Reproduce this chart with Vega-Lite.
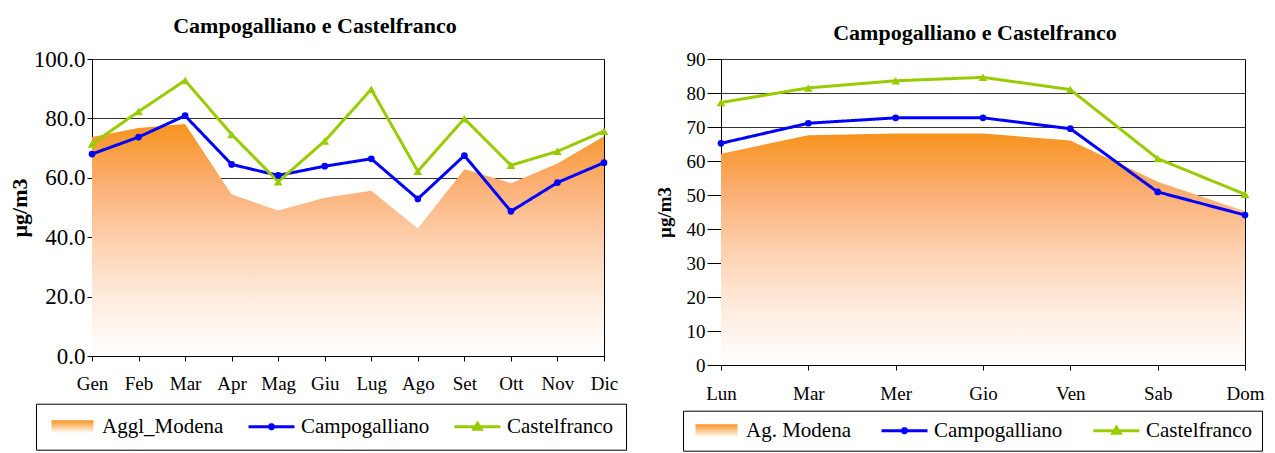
{
  "$schema": "https://vega.github.io/schema/vega-lite/v6.json",
  "background": "white",
  "padding": {"left": 7, "top": 14, "right": 0, "bottom": 0},
  "autosize": {"type": "pad"},
  "spacing": 117,
  "bounds": "flush",
  "datasets": {
    "monthly": [
      {"period": "Gen", "series": "Aggl_Modena", "value": 73.7},
      {"period": "Feb", "series": "Aggl_Modena", "value": 76.8},
      {"period": "Mar", "series": "Aggl_Modena", "value": 78.1},
      {"period": "Apr", "series": "Aggl_Modena", "value": 54.4},
      {"period": "Mag", "series": "Aggl_Modena", "value": 49.0},
      {"period": "Giu", "series": "Aggl_Modena", "value": 53.3},
      {"period": "Lug", "series": "Aggl_Modena", "value": 55.6},
      {"period": "Ago", "series": "Aggl_Modena", "value": 42.9},
      {"period": "Set", "series": "Aggl_Modena", "value": 62.9},
      {"period": "Ott", "series": "Aggl_Modena", "value": 58.2},
      {"period": "Nov", "series": "Aggl_Modena", "value": 64.8},
      {"period": "Dic", "series": "Aggl_Modena", "value": 74.0},
      {"period": "Gen", "series": "Campogalliano", "value": 68.0},
      {"period": "Feb", "series": "Campogalliano", "value": 73.7},
      {"period": "Mar", "series": "Campogalliano", "value": 80.9},
      {"period": "Apr", "series": "Campogalliano", "value": 64.5},
      {"period": "Mag", "series": "Campogalliano", "value": 60.8},
      {"period": "Giu", "series": "Campogalliano", "value": 63.9},
      {"period": "Lug", "series": "Campogalliano", "value": 66.4},
      {"period": "Ago", "series": "Campogalliano", "value": 52.9},
      {"period": "Set", "series": "Campogalliano", "value": 67.5},
      {"period": "Ott", "series": "Campogalliano", "value": 48.7},
      {"period": "Nov", "series": "Campogalliano", "value": 58.4},
      {"period": "Dic", "series": "Campogalliano", "value": 65.1},
      {"period": "Gen", "series": "Castelfranco", "value": 71.4},
      {"period": "Feb", "series": "Castelfranco", "value": 82.3},
      {"period": "Mar", "series": "Castelfranco", "value": 92.8},
      {"period": "Apr", "series": "Castelfranco", "value": 74.6},
      {"period": "Mag", "series": "Castelfranco", "value": 58.7},
      {"period": "Giu", "series": "Castelfranco", "value": 72.4},
      {"period": "Lug", "series": "Castelfranco", "value": 89.8},
      {"period": "Ago", "series": "Castelfranco", "value": 62.2},
      {"period": "Set", "series": "Castelfranco", "value": 79.9},
      {"period": "Ott", "series": "Castelfranco", "value": 64.2},
      {"period": "Nov", "series": "Castelfranco", "value": 68.9},
      {"period": "Dic", "series": "Castelfranco", "value": 75.7}
    ],
    "weekly": [
      {"period": "Lun", "series": "Ag. Modena", "value": 62.1},
      {"period": "Mar", "series": "Ag. Modena", "value": 67.6},
      {"period": "Mer", "series": "Ag. Modena", "value": 68.1},
      {"period": "Gio", "series": "Ag. Modena", "value": 68.1},
      {"period": "Ven", "series": "Ag. Modena", "value": 66.0},
      {"period": "Sab", "series": "Ag. Modena", "value": 53.9},
      {"period": "Dom", "series": "Ag. Modena", "value": 45.2},
      {"period": "Lun", "series": "Campogalliano", "value": 65.2},
      {"period": "Mar", "series": "Campogalliano", "value": 71.1},
      {"period": "Mer", "series": "Campogalliano", "value": 72.7},
      {"period": "Gio", "series": "Campogalliano", "value": 72.7},
      {"period": "Ven", "series": "Campogalliano", "value": 69.5},
      {"period": "Sab", "series": "Campogalliano", "value": 50.9},
      {"period": "Dom", "series": "Campogalliano", "value": 44.1},
      {"period": "Lun", "series": "Castelfranco", "value": 77.2},
      {"period": "Mar", "series": "Castelfranco", "value": 81.5},
      {"period": "Mer", "series": "Castelfranco", "value": 83.6},
      {"period": "Gio", "series": "Castelfranco", "value": 84.6},
      {"period": "Ven", "series": "Castelfranco", "value": 81.0},
      {"period": "Sab", "series": "Castelfranco", "value": 60.7},
      {"period": "Dom", "series": "Castelfranco", "value": 50.2}
    ]
  },
  "hconcat": [
    {
      "width": 512,
      "height": 297,
      "data": {"name": "monthly"},
      "title": {"text": "Campogalliano e Castelfranco", "dx": -33, "offset": 10},
      "encoding": {
        "x": {
          "field": "period", "type": "ordinal",
          "sort": ["Gen", "Feb", "Mar", "Apr", "Mag", "Giu", "Lug", "Ago", "Set", "Ott", "Nov", "Dic"],
          "scale": {"type": "point", "padding": 0},
          "axis": {"title": null, "labelAngle": 0, "labelPadding": 13, "labelFontSize": 19, "tickSize": 5, "grid": false}
        },
        "y": {
          "field": "value", "type": "quantitative",
          "scale": {"domain": [0, 100], "nice": false},
          "axis": {"title": "µg/m3", "titleFontSize": 22, "values": [0, 20, 40, 60, 80, 100], "format": ".1f", "labelFontSize": 23, "tickSize": 5, "labelPadding": 2, "titlePadding": 2}
        }
      },
      "layer": [
        {
          "transform": [{"filter": "datum.series === 'Aggl_Modena'"}],
          "mark": {
            "type": "area", "opacity": 1,
            "color": {"gradient": "linear", "x1": 0, "y1": 0, "x2": 0, "y2": 1,
              "stops": [
                {"offset": 0, "color": "#F7931E"},
                {"offset": 0.25, "color": "#FBAE72"},
                {"offset": 0.5, "color": "#FDD0AE"},
                {"offset": 0.75, "color": "#FEEBDD"},
                {"offset": 1, "color": "#FFFFFF"}
              ]}
          }
        },
        {
          "transform": [{"filter": "datum.series !== 'Aggl_Modena'"}],
          "encoding": {
            "color": {
              "field": "series", "type": "nominal",
              "scale": {"domain": ["Campogalliano", "Castelfranco"], "range": ["#0000FF", "#99CC00"]},
              "legend": null
            }
          },
          "layer": [
            {
              "mark": {"type": "line", "strokeWidth": 3},
              "encoding": {
                "strokeDash": {
                  "field": "series", "type": "nominal",
                  "scale": {"domain": ["Aggl_Modena", "Campogalliano", "Castelfranco"], "range": [[1, 0], [1, 0], [1, 0]]},
                  "legend": {
                    "orient": "none", "legendX": -56, "legendY": 344.7, "direction": "horizontal", "title": null,
                    "strokeColor": "black", "padding": 12, "columnPadding": 23, "labelOffset": 5, "clipHeight": 22,
                    "symbolSize": 2116, "labelFont": "Liberation Serif", "labelFontSize": 21, "labelColor": "black", "labelLimit": 400,
                    "encode": {
                      "symbols": {
                        "update": {
                          "shape": [
                            {"test": "datum.value === 'Aggl_Modena'", "value": "M-0.913,-0.283L0.913,-0.283L0.913,0.283L-0.913,0.283Z"},
                            {"test": "datum.value === 'Campogalliano'", "value": "M-1,0L1,0M-0.09,0A0.09,0.09,0,1,0,0.09,0A0.09,0.09,0,1,0,-0.09,0Z"},
                            {"value": "M-1,0L1,0M-0.16,0.11L0,-0.15L0.16,0.11Z"}
                          ],
                          "fill": [
                            {"test": "datum.value === 'Aggl_Modena'", "value": {"gradient": "linear", "x1": 0, "y1": 0, "x2": 0, "y2": 1, "stops": [{"offset": 0, "color": "#F7931E"}, {"offset": 1, "color": "#FFFFFF"}]}},
                            {"test": "datum.value === 'Campogalliano'", "value": "#0000FF"},
                            {"value": "#99CC00"}
                          ],
                          "stroke": [
                            {"test": "datum.value === 'Aggl_Modena'", "value": "transparent"},
                            {"test": "datum.value === 'Campogalliano'", "value": "#0000FF"},
                            {"value": "#99CC00"}
                          ],
                          "strokeWidth": {"value": 3},
                          "opacity": {"value": 1},
                          "fillOpacity": {"value": 1},
                          "strokeOpacity": {"value": 1}
                        }
                      }
                    }
                  }
                }
              }
            },
            {"transform": [{"filter": "datum.series === 'Campogalliano'"}], "mark": {"type": "point", "filled": true, "shape": "circle", "size": 45, "opacity": 1}},
            {"transform": [{"filter": "datum.series === 'Castelfranco'"}], "mark": {"type": "point", "filled": true, "shape": "triangle-up", "size": 75, "opacity": 1}}
          ]
        }
      ]
    },
    {
      "width": 524,
      "height": 306,
      "data": {"name": "weekly"},
      "title": {"text": "Campogalliano e Castelfranco", "dx": -8, "offset": 5},
      "encoding": {
        "x": {
          "field": "period", "type": "ordinal",
          "sort": ["Lun", "Mar", "Mer", "Gio", "Ven", "Sab", "Dom"],
          "scale": {"type": "point", "padding": 0},
          "axis": {"title": null, "labelAngle": 0, "labelPadding": 14, "labelFontSize": 19, "tickSize": 5, "grid": false}
        },
        "y": {
          "field": "value", "type": "quantitative",
          "scale": {"domain": [0, 90], "nice": false},
          "axis": {"title": "µg/m3", "titleFontSize": 19, "values": [0, 10, 20, 30, 40, 50, 60, 70, 80, 90], "format": "d", "labelFontSize": 19, "tickSize": 14, "labelPadding": 2, "titlePadding": 12}
        }
      },
      "layer": [
        {
          "transform": [{"filter": "datum.series === 'Ag. Modena'"}],
          "mark": {
            "type": "area", "opacity": 1,
            "color": {"gradient": "linear", "x1": 0, "y1": 0, "x2": 0, "y2": 1,
              "stops": [
                {"offset": 0, "color": "#F7931E"},
                {"offset": 0.25, "color": "#FBAE72"},
                {"offset": 0.5, "color": "#FDD0AE"},
                {"offset": 0.75, "color": "#FEEBDD"},
                {"offset": 1, "color": "#FFFFFF"}
              ]}
          }
        },
        {
          "transform": [{"filter": "datum.series !== 'Ag. Modena'"}],
          "encoding": {
            "color": {
              "field": "series", "type": "nominal",
              "scale": {"domain": ["Campogalliano", "Castelfranco"], "range": ["#0000FF", "#99CC00"]},
              "legend": null
            }
          },
          "layer": [
            {
              "mark": {"type": "line", "strokeWidth": 3},
              "encoding": {
                "strokeDash": {
                  "field": "series", "type": "nominal",
                  "scale": {"domain": ["Ag. Modena", "Campogalliano", "Castelfranco"], "range": [[1, 0], [1, 0], [1, 0]]},
                  "legend": {
                    "orient": "none", "legendX": -38, "legendY": 351.7, "direction": "horizontal", "title": null,
                    "strokeColor": "black", "padding": 9, "columnPadding": 29, "labelOffset": 5, "clipHeight": 22,
                    "symbolSize": 2116, "labelFont": "Liberation Serif", "labelFontSize": 21, "labelColor": "black", "labelLimit": 400,
                    "encode": {
                      "symbols": {
                        "update": {
                          "shape": [
                            {"test": "datum.value === 'Ag. Modena'", "value": "M-0.913,-0.283L0.913,-0.283L0.913,0.283L-0.913,0.283Z"},
                            {"test": "datum.value === 'Campogalliano'", "value": "M-1,0L1,0M-0.09,0A0.09,0.09,0,1,0,0.09,0A0.09,0.09,0,1,0,-0.09,0Z"},
                            {"value": "M-1,0L1,0M-0.16,0.11L0,-0.15L0.16,0.11Z"}
                          ],
                          "fill": [
                            {"test": "datum.value === 'Ag. Modena'", "value": {"gradient": "linear", "x1": 0, "y1": 0, "x2": 0, "y2": 1, "stops": [{"offset": 0, "color": "#F7931E"}, {"offset": 1, "color": "#FFFFFF"}]}},
                            {"test": "datum.value === 'Campogalliano'", "value": "#0000FF"},
                            {"value": "#99CC00"}
                          ],
                          "stroke": [
                            {"test": "datum.value === 'Ag. Modena'", "value": "transparent"},
                            {"test": "datum.value === 'Campogalliano'", "value": "#0000FF"},
                            {"value": "#99CC00"}
                          ],
                          "strokeWidth": {"value": 3},
                          "opacity": {"value": 1},
                          "fillOpacity": {"value": 1},
                          "strokeOpacity": {"value": 1}
                        }
                      }
                    }
                  }
                }
              }
            },
            {"transform": [{"filter": "datum.series === 'Campogalliano'"}], "mark": {"type": "point", "filled": true, "shape": "circle", "size": 45, "opacity": 1}},
            {"transform": [{"filter": "datum.series === 'Castelfranco'"}], "mark": {"type": "point", "filled": true, "shape": "triangle-up", "size": 75, "opacity": 1}}
          ]
        }
      ]
    }
  ],
  "resolve": {
    "scale": {"x": "independent", "y": "independent", "color": "independent", "strokeDash": "independent"},
    "legend": {"strokeDash": "independent"}
  },
  "config": {
    "font": "Liberation Serif",
    "view": {"stroke": "black", "strokeWidth": 1},
    "title": {"font": "Liberation Serif", "fontSize": 22, "fontWeight": "bold", "color": "black", "anchor": "middle"},
    "axis": {
      "labelFont": "Liberation Serif", "labelColor": "black",
      "titleFont": "Liberation Serif", "titleFontWeight": "bold", "titleColor": "black",
      "domainColor": "black", "tickColor": "black", "gridColor": "#333333", "gridOpacity": 1
    }
  }
}
